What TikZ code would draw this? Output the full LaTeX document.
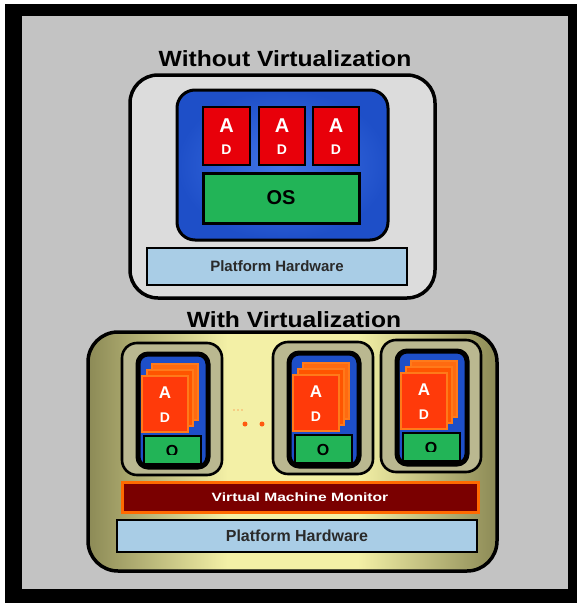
\documentclass[tikz,border=0pt]{standalone}
\usepackage{fontspec}
\setmainfont{Liberation Sans}
\newfontfamily\headfont[FakeStretch=1.12]{Liberation Sans}
\newfontfamily\vmmfont[FakeStretch=1.3]{Liberation Sans}

\definecolor{bggray}{HTML}{C3C3C3}
\definecolor{hostgray}{HTML}{DCDCDC}
\definecolor{bluebase}{HTML}{1E4FC8}
\definecolor{blueglow}{HTML}{4275E8}
\definecolor{appred}{HTML}{E8000A}
\definecolor{osgreen}{HTML}{22B457}
\definecolor{hwblue}{HTML}{A9CDE6}
\definecolor{olv}{HTML}{8C8A56}
\definecolor{pale}{HTML}{F3F0A6}
\definecolor{vmband}{HTML}{BAB890}
\definecolor{cardfront}{HTML}{FF3A0A}
\definecolor{cardmid}{HTML}{FF5500}
\definecolor{cardback}{HTML}{FF6A10}
\definecolor{cardedge}{HTML}{FF7A1A}
\definecolor{vmmred}{HTML}{7A0000}
\definecolor{vmmedge}{HTML}{FF6A00}
\definecolor{dotorange}{HTML}{FF5A10}
\definecolor{hwtext}{HTML}{2A2A2A}

% soft glow in the middle of the OS frame
\pgfdeclareradialshading{bluecore}{\pgfpoint{0bp}{0bp}}{%
  color(0bp)=(blueglow); color(25bp)=(bluebase); color(50bp)=(bluebase)}
% olive edges, pale yellow centre for the virtualised host
\pgfdeclarehorizontalshading{olivebar}{100bp}{%
  color(0bp)=(olv); color(25bp)=(olv); color(42bp)=(pale);
  color(58bp)=(pale); color(75bp)=(olv); color(100bp)=(olv)}

\tikzset{
  blk/.style={rectangle, anchor=north west, inner sep=0pt, outer sep=0pt, draw=black},
  title/.style={font=\headfont\bfseries\fontsize{22}{24}\selectfont, text=black},
  hostbox/.style={blk, line width=3.5pt, rounded corners=28pt, fill=hostgray},
  osframe/.style={blk, line width=3pt, rounded corners=18pt, shading=bluecore},
  appbox/.style={blk, line width=2.8pt, fill=appred},
  apptxt/.style={text=white, font=\bfseries\fontsize{20}{22}\selectfont},
  apptxtsmall/.style={text=white, font=\bfseries\fontsize{14}{16}\selectfont},
  osbox/.style={blk, line width=3pt, fill=osgreen, font=\bfseries\fontsize{20}{22}\selectfont},
  hwbox/.style={blk, line width=2.5pt, fill=hwblue, text=hwtext},
  virthost/.style={blk, line width=3.5pt, rounded corners=30pt, shading=olivebar},
  vmframe/.style={blk, line width=2.6pt, rounded corners=15pt, fill=vmband},
  vmcore/.style={blk, line width=5pt, rounded corners=10pt, fill=bluebase},
  card/.style={blk, draw=cardedge, line width=1.5pt, minimum width=46, minimum height=56},
  cardtxt/.style={text=white, font=\bfseries\fontsize{17}{19}\selectfont},
  cardtxtsmall/.style={text=white, font=\bfseries\fontsize{14}{16}\selectfont},
  vmos/.style={blk, line width=2.5pt, fill=osgreen, minimum width=57, minimum height=28},
  vmostxt/.style={text=black, font=\bfseries\fontsize{16}{18}\selectfont},
  vmmbox/.style={blk, draw=vmmedge, line width=3pt, fill=vmmred, text=white,
    font=\vmmfont\bfseries\fontsize{12}{14}\selectfont},
  dot/.style={circle, fill=dotorange, inner sep=0pt, minimum size=5pt},
  faintdot/.style={circle, fill=dotorange!45!pale, inner sep=0pt, minimum size=1.6pt},
}

% one guest machine: name prefix, x, y, lower clip edge of its OS letter
\newcommand\guestvm[4]{%
  \begin{scope}[shift={(#2,#3)}]
    \node[vmframe, minimum width=100, minimum height=132] (#1frame) at (0,0) {};
    \node[vmcore, minimum width=70, minimum height=113] (#1core) at (16,11) {};
    \node[card, fill=cardback] (#1back) at (30,21) {};
    \node[card, fill=cardmid] (#1mid) at (25,27) {};
    \node[card, fill=cardfront] (#1front) at (20,33) {};
    \node[cardtxt] (#1a) at (43,50) {A};
    \node[cardtxtsmall] (#1d) at (43,75) {D};
    \node[vmos] (#1os) at (22,93) {};
    \begin{scope}
      \clip (22,93) rectangle (79,#4);
      \node[vmostxt] (#1o) at (50,108) {O};
    \end{scope}
  \end{scope}}

\begin{document}
\begin{tikzpicture}[x=1pt, y=-1pt]
  \useasboundingbox (0,0) rectangle (577,603);
  % frame and backdrop
  \fill[white] (0,0) rectangle (577,603);
  \fill[black] (5,4) rectangle (577,603);
  \fill[bggray] (22,16) rectangle (568,589);

  % ---------- without virtualization ----------
  \node[title] (plaintitle) at (285,59) {Without Virtualization};
  \node[hostbox, minimum width=305, minimum height=223] (plainhost) at (130,75) {};
  \node[osframe, minimum width=211, minimum height=150] (plainframe) at (177,90) {};
  \node[appbox, minimum width=47, minimum height=58] (app1) at (203,107) {};
  \node[appbox, minimum width=46, minimum height=58] (app2) at (259,107) {};
  \node[appbox, minimum width=46, minimum height=58] (app3) at (313,107) {};
  \foreach \k in {1,2,3} {
    \node[apptxt] (app\k a) at ([yshift=-19pt]app\k.north) {A};
    \node[apptxtsmall] (app\k d) at ([yshift=-43pt]app\k.north) {D};
  }
  \node[osbox, minimum width=156, minimum height=50] (plainos) at (203,173) {OS};
  \node[hwbox, minimum width=260, minimum height=37,
        font=\bfseries\fontsize{15}{17}\selectfont] (plainhw) at (147,248) {Platform Hardware};

  % ---------- with virtualization ----------
  \node[title] (virttitle) at (294,320) {With Virtualization};
  \node[virthost, minimum width=409, minimum height=239] (virthost) at (88,332) {};

  \guestvm{vma}{122}{343}{111}
  \guestvm{vmb}{273}{342}{121}
  \guestvm{vmc}{381}{340}{111}

  % ellipsis between the first and second guest
  \node[faintdot] (fd1) at (234,410) {};
  \node[faintdot] (fd2) at (238,410) {};
  \node[faintdot] (fd3) at (242,410) {};
  \node[dot] (dot1) at (245,424) {};
  \node[dot] (dot2) at (262,424) {};

  \node[vmmbox, minimum width=356, minimum height=30] (vmm) at (122,482) {Virtual Machine Monitor};
  \node[hwbox, minimum width=360, minimum height=32,
        font=\bfseries\fontsize{16}{18}\selectfont] (virthw) at (117,520) {Platform Hardware};
\end{tikzpicture}
\end{document}
